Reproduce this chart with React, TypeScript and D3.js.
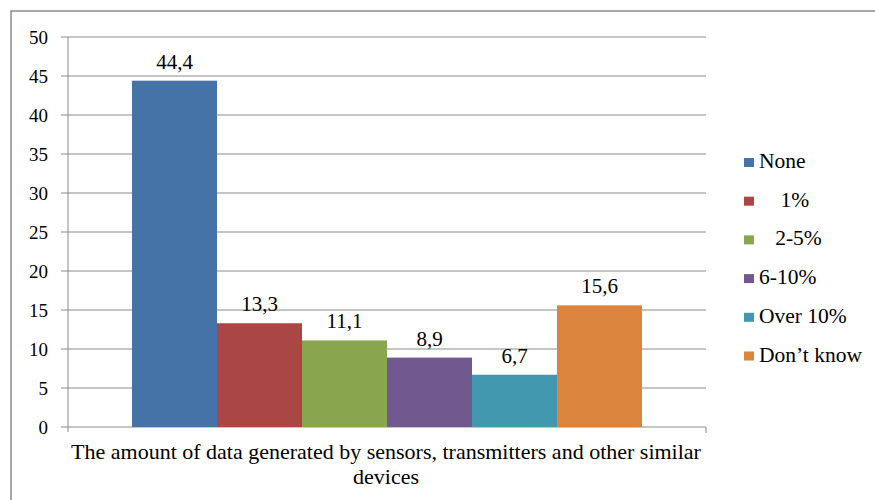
import React from 'react';
import * as d3 from 'd3';

const CATEGORY = ['The amount of data generated by sensors, transmitters and other similar', 'devices'];
const SERIES = ['None', '    1%', '   2-5%', '6-10%', 'Over 10%', 'Don\u2019t know'];
const VALUES = [44.4, 13.3, 11.1, 8.9, 6.7, 15.6];
const COLORS = ['#4572A7', '#AA4643', '#89A54E', '#71588F', '#4198AF', '#DB843D'];
const Y_TICKS = [0, 5, 10, 15, 20, 25, 30, 35, 40, 45, 50];

const GRID = '#8c8c8c';

const App: React.FC = () => {
  const left = 68, right = 706, top = 37, bottom = 427;

  const y = d3.scaleLinear().domain([0, 50]).range([bottom, top]);
  const x0 = d3.scaleBand().domain(['group']).range([left, right]);
  const groupPad = 64;
  const gx = x0('group')!;
  const x1 = d3.scaleBand()
    .domain(SERIES)
    .range([gx + groupPad, gx + x0.bandwidth() - groupPad]);

  return (
    <svg width={875} height={500} style={{ position: 'absolute', left: 0, top: 0, background: 'white' }}>
      <rect x={11} y={11} width={900} height={520} fill="white" stroke={GRID} strokeWidth={1.5} />

      {/* gridlines */}
      {Y_TICKS.map(t => (
        <line key={t} x1={left - 7} x2={right} y1={y(t)} y2={y(t)} stroke={GRID} strokeWidth={1} />
      ))}
      {/* axes */}
      <line x1={left} x2={left} y1={top} y2={bottom + 5} stroke={GRID} />
      <line x1={right} x2={right} y1={bottom} y2={bottom + 6} stroke={GRID} />

      {/* bars */}
      {VALUES.map((v, i) => (
        <rect
          key={SERIES[i]}
          x={x1(SERIES[i])!}
          y={y(v)}
          width={x1.bandwidth()}
          height={bottom - y(v)}
          fill={COLORS[i]}
        />
      ))}

      <g fontFamily="Liberation Serif" style={{ fontFamily: "'Liberation Serif'" }}>
        {/* y tick labels */}
        {Y_TICKS.map(t => (
          <text key={t} x={48} y={y(t) + 7} textAnchor="end" fontSize={19}>{t}</text>
        ))}

        {/* value labels */}
        {VALUES.map((v, i) => (
          <text
            key={SERIES[i]}
            x={x1(SERIES[i])! + x1.bandwidth() / 2}
            y={y(v) - 12}
            textAnchor="middle"
            fontSize={21}
          >
            {v.toFixed(1).replace('.', ',')}
          </text>
        ))}

        {/* category label */}
        {CATEGORY.map((c, i) => (
          <text key={c} x={386} y={459 + i * 25} textAnchor="middle" fontSize={22}>
            {c}
          </text>
        ))}

        {/* legend */}
        {SERIES.map((s, i) => (
          <g key={s} transform={`translate(744,${158 + i * 38.7})`}>
            <rect x={0} y={0} width={10} height={9} fill={COLORS[i]} />
            <text x={15} y={10} fontSize={21.5} xmlSpace="preserve">{s}</text>
          </g>
        ))}
      </g>
    </svg>
  );
};

export default App;
